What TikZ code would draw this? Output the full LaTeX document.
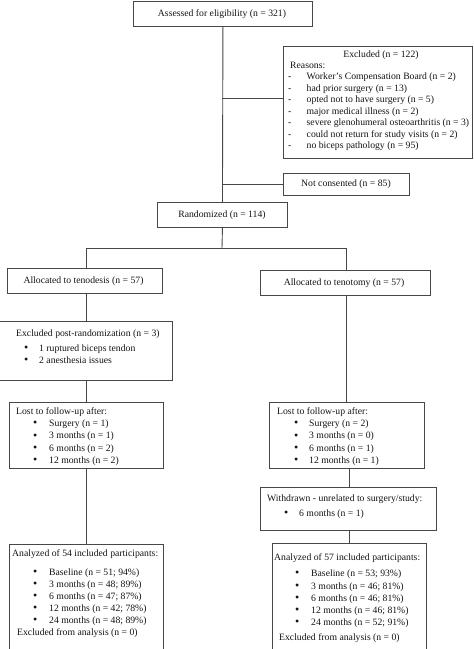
\documentclass[tikz,border=0pt]{standalone}
\usepackage{fontspec}
\setmainfont{Liberation Serif}
\begin{document}
\begin{tikzpicture}[x=1pt,y=-1pt,
  box/.style={draw=black!72, line width=0.9pt, inner sep=0pt, anchor=north west},
  txt/.style={inner sep=0pt, anchor=west, text height=7pt, text depth=2pt, font=\fontsize{9.7}{12}\selectfont, text=black!92},
  ctxt/.style={txt, anchor=center},
  link/.style={draw=black!72, line width=0.9pt}]
\useasboundingbox (0,0) rectangle (474,649);
\newcommand\bul[1]{\makebox[#1pt][l]{\raisebox{-0.3pt}{\fontsize{12}{12}\selectfont\textbullet}}}
% boxes
\node[box, minimum width=179pt, minimum height=25.5pt] (assess) at (133,0.5) {};
\node[box, minimum width=189pt, minimum height=112pt] (excl) at (283,46) {};
\node[box, minimum width=126pt, minimum height=22pt] (notc) at (283,173) {};
\node[box, minimum width=130pt, minimum height=25pt] (rand) at (157,202) {};
\node[box, minimum width=155pt, minimum height=25pt] (teno) at (7,268) {};
\node[box, minimum width=170pt, minimum height=25pt] (tomy) at (260,270) {};
\node[box, minimum width=177pt, minimum height=59pt] (post) at (-5,321) {};
\node[box, minimum width=154pt, minimum height=66pt] (lostL) at (9,402) {};
\node[box, minimum width=155pt, minimum height=66pt] (lostR) at (269,402) {};
\node[box, minimum width=176pt, minimum height=43pt] (withd) at (260,487) {};
\node[box, minimum width=154pt, minimum height=105pt] (anaL) at (9,544) {};
\node[box, minimum width=154pt, minimum height=106pt] (anaR) at (272,543) {};
% connectors
\coordinate (e1) at (222,98);
\coordinate (s) at (222,248);
\coordinate (sl) at (86,248);
\coordinate (sr) at (346,248);
\coordinate (rc) at (349,0);
\draw[link] (assess.south) -- (rand.north);
\draw[link] (e1) -- (e1 -| excl.west);
\draw[link] (rand.north |- notc.west) -- (notc.west);
\draw[link] (rand.south) -- (s);
\draw[link] (sl) -- (sr);
\draw[link] (sl) -- (sl |- teno.north);
\draw[link] (sr) -- (sr |- tomy.north);
\draw[link] (sl |- teno.south) -- (sl |- post.north);
\draw[link] (sl |- post.south) -- (sl |- lostL.north);
\draw[link] (sl |- lostL.south) -- (sl |- anaL.north);
\draw[link] (sr |- tomy.south) -- (sr |- lostR.north);
\draw[link] (rc |- lostR.south) -- (rc |- withd.north);
\draw[link] (rc |- withd.south) -- (rc |- anaR.north);
% texts
\node[ctxt] (t0) at (222,14) {Assessed for eligibility (n = 321)};
\node[ctxt] (t1) at (381,55) {Excluded (n = 122)};
\node[txt] (t2) at (290,65.5) {Reasons:};
\node[txt] (t3) at (288,77) {\makebox[18.5pt][l]{-}Worker's Compensation Board (n = 2)};
\node[txt] (t4) at (288,88.5) {\makebox[18.5pt][l]{-}had prior surgery (n = 13)};
\node[txt] (t5) at (288,100) {\makebox[18.5pt][l]{-}opted not to have surgery (n = 5)};
\node[txt] (t6) at (288,111.5) {\makebox[18.5pt][l]{-}major medical illness (n = 2)};
\node[txt] (t7) at (288,123) {\makebox[18.5pt][l]{-}severe glenohumeral osteoarthritis (n = 3)};
\node[txt] (t8) at (288,134.5) {\makebox[18.5pt][l]{-}could not return for study visits (n = 2)};
\node[txt] (t9) at (288,146) {\makebox[18.5pt][l]{-}no biceps pathology (n = 95)};
\node[ctxt] (t10) at (346,184) {Not consented (n = 85)};
\node[ctxt] (t11) at (222,214.5) {Randomized (n = 114)};
\node[ctxt] (t12) at (83.5,280.5) {Allocated to tenodesis (n = 57)};
\node[ctxt] (t13) at (344,282.5) {Allocated to tenotomy (n = 57)};
\node[txt] (t14) at (16,334) {Excluded post-randomization (n = 3)};
\node[txt] (t15) at (24,349) {\bul{15}1 ruptured biceps tendon};
\node[txt] (t16) at (24,361) {\bul{15}2 anesthesia issues};
\node[txt] (t17) at (16,412) {Lost to follow-up after:};
\node[txt] (t18) at (33,424) {\bul{16}Surgery (n = 1)};
\node[txt] (t19) at (33,436.3) {\bul{16}3 months (n = 1)};
\node[txt] (t20) at (33,448.5) {\bul{16}6 months (n = 2)};
\node[txt] (t21) at (33,460.7) {\bul{16}12 months (n = 2)};
\node[txt] (t22) at (277,412) {Lost to follow-up after:};
\node[txt] (t23) at (294,424) {\bul{15}Surgery (n = 2)};
\node[txt] (t24) at (294,436.3) {\bul{15}3 months (n = 0)};
\node[txt] (t25) at (294,448.5) {\bul{15}6 months (n = 1)};
\node[txt] (t26) at (294,460.7) {\bul{15}12 months (n = 1)};
\node[txt] (t27) at (267,499) {Withdrawn - unrelated to surgery/study:};
\node[txt] (t28) at (284,514) {\bul{15}6 months (n = 1)};
\node[txt] (t29) at (12,554) {Analyzed of 54 included participants:};
\node[txt] (t30) at (33,573) {\bul{16}Baseline (n = 51; 94\%)};
\node[txt] (t31) at (33,585) {\bul{16}3 months (n = 48; 89\%)};
\node[txt] (t32) at (33,597) {\bul{16}6 months (n = 47; 87\%)};
\node[txt] (t33) at (33,609) {\bul{16}12 months (n = 42; 78\%)};
\node[txt] (t34) at (33,621) {\bul{16}24 months (n = 48; 89\%)};
\node[txt] (t35) at (17,633) {Excluded from analysis (n = 0)};
\node[txt] (t36) at (274,558) {Analyzed of 57 included participants:};
\node[txt] (t37) at (295,574) {\bul{16}Baseline (n = 53; 93\%)};
\node[txt] (t38) at (295,586.5) {\bul{16}3 months (n = 46; 81\%)};
\node[txt] (t39) at (295,598.5) {\bul{16}6 months (n = 46; 81\%)};
\node[txt] (t40) at (295,610.5) {\bul{16}12 months (n = 46; 81\%)};
\node[txt] (t41) at (295,622.5) {\bul{16}24 months (n = 52; 91\%)};
\node[txt] (t42) at (279,638) {Excluded from analysis (n = 0)};
\end{tikzpicture}
\end{document}
